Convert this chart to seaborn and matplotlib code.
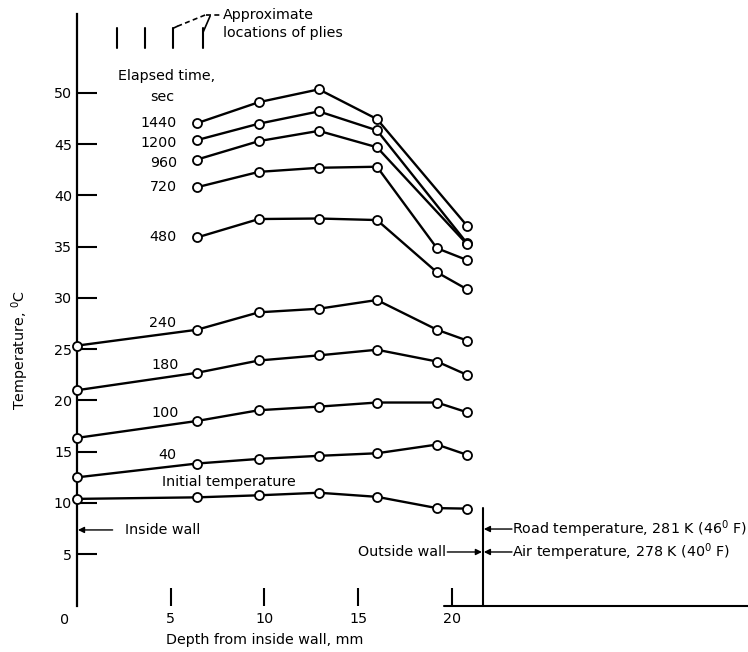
import numpy as np
import pandas as pd
import matplotlib
matplotlib.use("Agg")
import matplotlib.pyplot as plt
from matplotlib import font_manager as fm
import seaborn as sns

# ---------------- data ----------------
depth_mm = [0.0, 6.4, 9.7, 12.9, 16.0, 19.2, 20.8]
nan = np.nan
t_1440 = [nan, 47.05, 49.1, 50.35, 47.45, nan, 37.05]
t_1200 = [nan, 45.4, 47.0, 48.2, 46.35, nan, 35.35]
t_960 = [nan, 43.5, 45.3, 46.3, 44.7, nan, 35.25]
t_720 = [nan, 40.8, 42.3, 42.7, 42.8, 34.85, 33.7]
t_480 = [nan, 35.9, 37.7, 37.75, 37.6, 32.5, 30.85]
t_240 = [25.35, 26.9, 28.6, 28.95, 29.8, 26.9, 25.85]
t_180 = [21.0, 22.7, 23.9, 24.4, 24.95, 23.8, 22.5]
t_100 = [16.35, 18.0, 19.05, 19.4, 19.8, 19.8, 18.85]
t_40 = [12.5, 13.85, 14.3, 14.6, 14.85, 15.7, 14.7]
t_initial = [10.4, 10.55, 10.75, 11.0, 10.6, 9.5, 9.45]

series_names = ["1440", "1200", "960", "720", "480", "240", "180", "100", "40", "Initial"]
series_values = [t_1440, t_1200, t_960, t_720, t_480, t_240, t_180, t_100, t_40, t_initial]

y_ticks = [5, 10, 15, 20, 25, 30, 35, 40, 45, 50]
x_ticks = [5, 10, 15, 20]
ply_locations = [2.13, 3.63, 5.12, 6.72]

# ---------------- style ----------------
sns.set_theme(style="white")
names = {f.name for f in fm.fontManager.ttflist}
if "Liberation Sans Narrow" in names:
    FONT = "Liberation Sans Narrow"
    FS = 12.5
else:
    FONT = "DejaVu Sans"
    FS = 10.3
plt.rcParams["font.family"] = [FONT, "DejaVu Sans"]
plt.rcParams["mathtext.fontset"] = "dejavusans"
plt.rcParams["font.size"] = FS
plt.rcParams["text.color"] = "black"
plt.rcParams["axes.labelcolor"] = "black"
plt.rcParams["xtick.color"] = "black"
plt.rcParams["ytick.color"] = "black"

fig = plt.figure(figsize=(7.48, 6.52), dpi=100)
ax = fig.add_axes([77 / 748, (652 - 605.5) / 652, 671 / 748, 591.5 / 652])

rows = []
for name, vals in zip(series_names, series_values):
    for d, t in zip(depth_mm, vals):
        if not np.isnan(t):
            rows.append({"series": name, "depth": d, "temp": t})
df = pd.DataFrame(rows)

for name in series_names:
    sub = df[df["series"] == name]
    sns.lineplot(data=sub, x="depth", y="temp", ax=ax, color="black",
                 linewidth=1.7, marker="o", markersize=6.5,
                 markerfacecolor="white", markeredgecolor="black",
                 markeredgewidth=1.3, sort=False, estimator=None,
                 clip_on=False, zorder=3)

ax.set_xlim(0, 35.79)
ax.set_ylim(0, 57.7)

for s in ["top", "right", "bottom"]:
    ax.spines[s].set_visible(False)
ax.spines["left"].set_color("black")
ax.spines["left"].set_linewidth(1.6)

ax.set_yticks(y_ticks)
ax.set_yticklabels([str(v) for v in y_ticks])
ax.set_xticks(x_ticks)
ax.set_xticklabels([str(v) for v in x_ticks])
ax.tick_params(axis="y", direction="in", length=14.5, width=1.5, pad=3.5,
               colors="black", labelsize=FS, left=True)
ax.tick_params(axis="x", direction="in", length=13, width=1.5, pad=5,
               colors="black", labelsize=FS, bottom=True)
ax.grid(False)

ax.set_xlabel("Depth from inside wall, mm", fontsize=FS, color="black")
ax.xaxis.set_label_coords((265 - 77) / 671, (605.5 - 640) / 591.5)
ax.xaxis.label.set_va("center")
ax.set_ylabel("Temperature, $^{0}$C", fontsize=FS, color="black")
ax.yaxis.set_label_coords((20 - 77) / 671, (605.5 - 350) / 591.5)
ax.yaxis.label.set_va("center")

# "0" label at lower-left
ax.text(-0.64, -1.4, "0", ha="center", va="center", fontsize=FS, clip_on=False)

# series labels
right_labels = {"1440": 47.07, "1200": 45.12, "960": 43.17, "720": 40.83, "480": 35.95}
for lab, yy in right_labels.items():
    ax.text(5.33, yy, lab, ha="right", va="center", fontsize=FS)
center_labels = {"240": (4.59, 27.56), "180": (4.69, 23.46), "100": (4.69, 18.78),
                 "40": (4.8, 14.68), "Initial temperature": (8.1, 12.05)}
for lab, (xx, yy) in center_labels.items():
    ax.text(xx, yy, lab, ha="center", va="center", fontsize=FS)
ax.text(4.8, 51.66, "Elapsed time,", ha="center", va="center", fontsize=FS)
ax.text(4.53, 49.6, "sec", ha="center", va="center", fontsize=FS)

# ply marks and leader
for p in ply_locations:
    ax.plot([p, p], [54.4, 56.3], color="black", lw=1.5, clip_on=False)
ax.plot([5.12, 5.35], [56.3, 56.5], color="black", lw=1.2, clip_on=False)
ax.plot([5.35, 6.9], [56.5, 57.65], color="black", lw=1.2, ls=(0, (3, 2)), clip_on=False)
ax.plot([6.72, 7.1], [55.9, 57.5], color="black", lw=1.2, clip_on=False)
ax.plot([6.9, 7.65], [57.65, 57.65], color="black", lw=1.2, ls=(0, (3, 2)), clip_on=False)
ax.text(7.8, 57.6, "Approximate", ha="left", va="center", fontsize=FS, clip_on=False)
ax.text(7.8, 55.85, "locations of plies", ha="left", va="center", fontsize=FS, clip_on=False)

# walls
ax.plot([21.65, 21.65], [0, 9.5], color="black", lw=1.5, clip_on=False)
ax.plot([19.6, 35.79], [0, 0], color="black", lw=1.5, clip_on=False)

arrow = dict(arrowstyle="-|>", color="black", lw=1.0, mutation_scale=9, shrinkA=0, shrinkB=0)
ax.annotate("", xy=(0.05, 7.37), xytext=(1.9, 7.37), arrowprops=arrow)
ax.text(2.55, 7.37, "Inside wall", ha="left", va="center", fontsize=FS)
ax.annotate("", xy=(21.7, 7.46), xytext=(23.2, 7.46), arrowprops=arrow)
ax.text(23.2, 7.46, "Road temperature, 281 K (46$^{0}$ F)", ha="left", va="center", fontsize=FS)
ax.annotate("", xy=(21.7, 5.22), xytext=(23.2, 5.22), arrowprops=arrow)
ax.text(23.2, 5.22, "Air temperature, 278 K (40$^{0}$ F)", ha="left", va="center", fontsize=FS)
ax.annotate("", xy=(21.6, 5.22), xytext=(19.75, 5.22), arrowprops=arrow)
ax.text(19.7, 5.22, "Outside wall", ha="right", va="center", fontsize=FS)

fig.savefig("out.png", dpi=100)
